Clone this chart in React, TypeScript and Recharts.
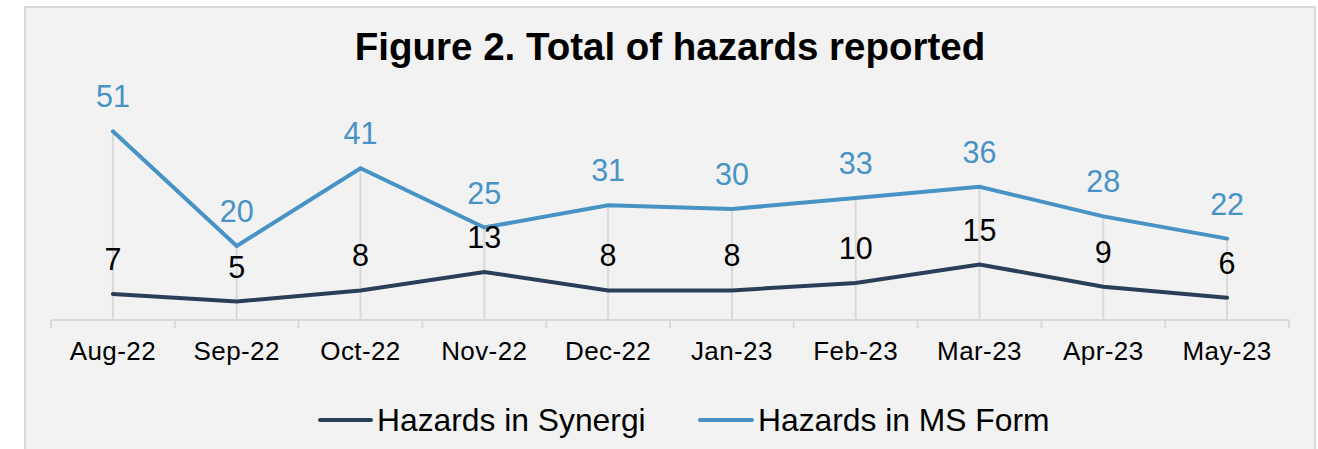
import React from 'react';
import { ComposedChart, Line, Bar, XAxis, YAxis, LabelList, Legend } from 'recharts';

const months = ['Aug-22', 'Sep-22', 'Oct-22', 'Nov-22', 'Dec-22', 'Jan-23', 'Feb-23', 'Mar-23', 'Apr-23', 'May-23'];
const synergi = [7, 5, 8, 13, 8, 8, 10, 15, 9, 6];
const msForm = [51, 20, 41, 25, 31, 30, 33, 36, 28, 22];
const seriesNames = ['Hazards in Synergi', 'Hazards in MS Form'];

const data = months.map((m, i) => ({ month: m, synergi: synergi[i], msForm: msForm[i] }));

const FONT = '"Liberation Sans", Arial, sans-serif';
const BLUE = '#4793C5';
const NAVY = '#2B3E57';
const GRID = '#D9D9D9';

const W = 1318;
const H = 449;
const M = { top: 98, right: 29, bottom: 89, left: 51 };
const STEP = (W - M.left - M.right) / months.length;

const DropLine = (props: any) => {
  const { x, y, width, height } = props;
  const cx = x + width / 2;
  return <line x1={cx} x2={cx} y1={y} y2={y + height} stroke={GRID} strokeWidth={2} />;
};

const Tick = (props: any) => {
  const { x, y, payload, index } = props;
  const last = index === months.length - 1;
  return (
    <g>
      <line x1={x - STEP / 2} x2={x - STEP / 2} y1={y} y2={y + 8} stroke={GRID} strokeWidth={2} />
      {last && <line x1={x + STEP / 2} x2={x + STEP / 2} y1={y} y2={y + 8} stroke={GRID} strokeWidth={2} />}
      <text x={x} y={y + 40} textAnchor="middle" fontFamily={FONT} fontSize={26} letterSpacing={0.4} fill="#000">
        {payload.value}
      </text>
    </g>
  );
};

const makeLabel = (color: string) => (props: any) => {
  const { x, y, value } = props;
  return (
    <text x={x} y={y - 24} textAnchor="middle" fontFamily={FONT} fontSize={30.5} fill={color}>
      {value}
    </text>
  );
};

const LegendContent = () => (
  <svg width={W} height={50} style={{ display: 'block' }}>
    <line x1={320} x2={371} y1={25} y2={25} stroke={NAVY} strokeWidth={4} strokeLinecap="round" />
    <text x={377} y={36} fontFamily={FONT} fontSize={31.8} fill="#000">{seriesNames[0]}</text>
    <line x1={700} x2={752} y1={25} y2={25} stroke={BLUE} strokeWidth={4} strokeLinecap="round" />
    <text x={758} y={36} fontFamily={FONT} fontSize={31.8} fill="#000">{seriesNames[1]}</text>
  </svg>
);

export default function App() {
  return (
    <div style={{ position: 'absolute', left: 0, top: 0, width: W, height: H, overflow: 'hidden', background: '#fff' }}>
      <div
        style={{
          position: 'absolute',
          left: 24,
          top: 6,
          width: 1288,
          height: 470,
          background: '#F2F2F2',
          border: '2px solid #D9D9D9',
        }}
      />
      <div
        style={{
          position: 'absolute',
          left: 0,
          top: 28,
          width: W,
          textAlign: 'center',
          fontFamily: FONT,
          fontWeight: 'bold',
          fontSize: 38.5,
          lineHeight: '38px',
          color: '#000',
          paddingLeft: 22,
          boxSizing: 'border-box',
        }}
      >
        Figure 2. Total of hazards reported
      </div>
      <div style={{ position: 'absolute', left: 0, top: 0 }}>
        <ComposedChart width={W} height={H} data={data} margin={M}>
          <XAxis
            dataKey="month"
            axisLine={{ stroke: GRID, strokeWidth: 2 }}
            tickLine={false}
            tickSize={0}
            tickMargin={0}
            height={40}
            interval={0}
            tick={<Tick />}
          />
          <YAxis hide domain={[0, 60]} />
          <Bar dataKey="msForm" shape={<DropLine />} isAnimationActive={false} legendType="none" />
          <Line
            dataKey="synergi"
            name={seriesNames[0]}
            stroke={NAVY}
            strokeWidth={4}
            strokeLinecap="round"
            dot={false}
            activeDot={false}
            isAnimationActive={false}
          >
            <LabelList dataKey="synergi" content={makeLabel('#000')} />
          </Line>
          <Line
            dataKey="msForm"
            name={seriesNames[1]}
            stroke={BLUE}
            strokeWidth={4}
            strokeLinecap="round"
            dot={false}
            activeDot={false}
            isAnimationActive={false}
          >
            <LabelList dataKey="msForm" content={makeLabel(BLUE)} />
          </Line>
          <Legend
            layout="horizontal"
            verticalAlign="middle"
            align="center"
            content={<LegendContent />}
            wrapperStyle={{ position: 'absolute', left: 0, top: 395, width: W }}
          />
        </ComposedChart>
      </div>
    </div>
  );
}
